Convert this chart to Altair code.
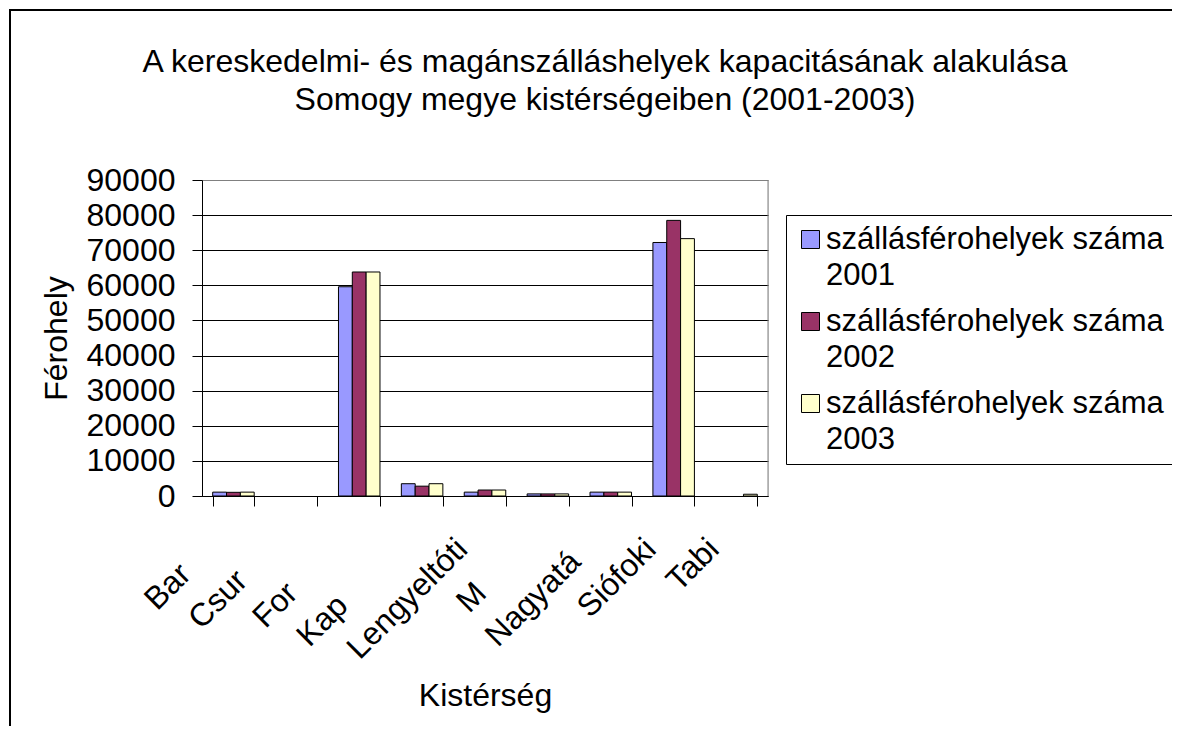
import json
import altair as alt
import pandas as pd

# ---- data ----
categories = ["Bar", "Csur", "For", "Kap", "Lengyeltóti", "M", "Nagyatá", "Siófoki", "Tabi"]
series = ["szállásférohelyek száma 2001", "szállásférohelyek száma 2002", "szállásférohelyek száma 2003"]
values_2001 = [1100, None, 59600, 3500, 1100, 600, 1100, 72200, None]
values_2002 = [1050, None, 63800, 2800, 1700, 600, 1100, 78500, None]
values_2003 = [1100, None, 63800, 3500, 1700, 600, 1100, 73300, 500]
y_ticks = [0, 10000, 20000, 30000, 40000, 50000, 60000, 70000, 80000, 90000]
title_lines = [
    "A kereskedelmi- és magánszálláshelyek kapacitásának alakulása",
    "Somogy megye kistérségeiben (2001-2003)",
]
x_title = "Kistérség"
y_title = "Férohely"
colors = ["#9999FF", "#993366", "#FFFFCC"]

rows = []
for s, vals in zip(series, [values_2001, values_2002, values_2003]):
    for c, v in zip(categories, vals):
        if v is not None:
            rows.append({"kisterseg": c, "sorozat": s, "ferohely": v})
df = pd.DataFrame(rows)
one = pd.DataFrame({"k": [0]})

FONT = "Liberation Sans"
FS = 32
W, H = 566, 316

# clipped labels sit further down-left in the reference: pad their ends with
# non-breaking spaces, closed by a word joiner so that they are not stripped
label_shift = {"Bar": 4, "Csur": 5, "For": 7, "Kap": 9, "M": 7, "Nagyatá": 2}
label_map = {
    c: (c + "\u00a0" * label_shift[c] + "\u2060") if c in label_shift else c
    for c in categories
}
x_label_expr = "(" + json.dumps(label_map, ensure_ascii=False) + ")[datum.value]"

legend_label_expr = (
    "[substring(datum.label, 0, lastindexof(datum.label, ' ')), "
    "substring(datum.label, lastindexof(datum.label, ' ') + 1)]"
)

x_axis = alt.Axis(
    title=x_title,
    titleFont=FONT, titleFontSize=FS, titleFontWeight="normal", titleColor="black",
    titleX=W / 2, titleY=209, titleBaseline="alphabetic", titleAlign="center",
    labelAngle=-45, labelAlign="right", labelBaseline="top",
    labelFont=FONT, labelFontSize=FS, labelColor="black",
    labelExpr=x_label_expr, labelOffset=-34, labelPadding=27,
    labelOverlap=False, labelLimit=500, labelBound=False,
    tickBand="extent", tickSize=10, tickColor="black", tickWidth=1,
    domainColor="black", domainWidth=1, grid=False,
)

y_axis = alt.Axis(
    title=y_title,
    titleFont=FONT, titleFontSize=FS, titleFontWeight="normal", titleColor="black",
    titleAngle=270, titleX=-146, titleY=H / 2, titleBaseline="middle", titleAlign="center",
    values=y_ticks, format="d",
    labelFont=FONT, labelFontSize=FS, labelColor="black", labelPadding=17,
    tickSize=10, tickColor="black", tickWidth=1,
    domainColor="black", domainWidth=1,
    grid=True, gridWidth=1,
    gridColor={"condition": {"test": "datum.value >= 90000", "value": "#808080"}, "value": "black"},
)

legend = alt.Legend(
    title=None, orient="none", legendX=584, legendY=35, direction="vertical",
    fillColor="white", strokeColor="black", padding=9,
    symbolType="square", symbolSize=324,
    symbolStrokeColor="black", symbolStrokeWidth=1, symbolOpacity=1,
    labelFont=FONT, labelFontSize=31, labelColor="black", labelOffset=0,
    labelLimit=1000, labelExpr=legend_label_expr, labelBaseline="middle",
    rowPadding=14,
)

bars = alt.Chart(df).mark_bar(stroke="black", strokeWidth=1).encode(
    x=alt.X("kisterseg:N", sort=categories,
            scale=alt.Scale(domain=categories, paddingInner=0.34, paddingOuter=0.17),
            axis=x_axis),
    xOffset=alt.XOffset("sorozat:N", sort=series,
                        scale=alt.Scale(domain=series, paddingInner=0, paddingOuter=0)),
    y=alt.Y("ferohely:Q", scale=alt.Scale(domain=[0, 90000], nice=False), axis=y_axis),
    color=alt.Color("sorozat:N", scale=alt.Scale(domain=series, range=colors), legend=legend),
)

plot_right_border = alt.Chart(one).mark_rule(color="#808080", strokeWidth=1).encode(
    x=alt.value(W), y=alt.value(0), y2=alt.value(H)
)
frame_left = alt.Chart(one).mark_rule(color="black", strokeWidth=2).encode(
    x=alt.value(-192), y=alt.value(-171), y2=alt.value(700)
)
frame_top = alt.Chart(one).mark_rule(color="black", strokeWidth=2).encode(
    x=alt.value(-193), x2=alt.value(990), y=alt.value(-170)
)
title_text = alt.Chart(one).mark_text(
    text=title_lines, font=FONT, fontSize=FS, color="black",
    align="center", baseline="alphabetic", lineHeight=38,
).encode(x=alt.value(403), y=alt.value(-108))

chart = alt.layer(bars, plot_right_border, frame_left, frame_top, title_text).properties(
    width=W, height=H,
    autosize=alt.AutoSizeParams(type="none"),
    padding={"left": 194, "top": 172, "right": 404, "bottom": 230},
    background="white",
).configure_view(
    stroke="transparent", strokeWidth=0
).configure_legend(
    strokeWidth=1
).configure(
    style={"guide-label": {"lineHeight": 36}}
)

chart.save("out.html", embed_options={"renderer": "svg", "actions": False})
